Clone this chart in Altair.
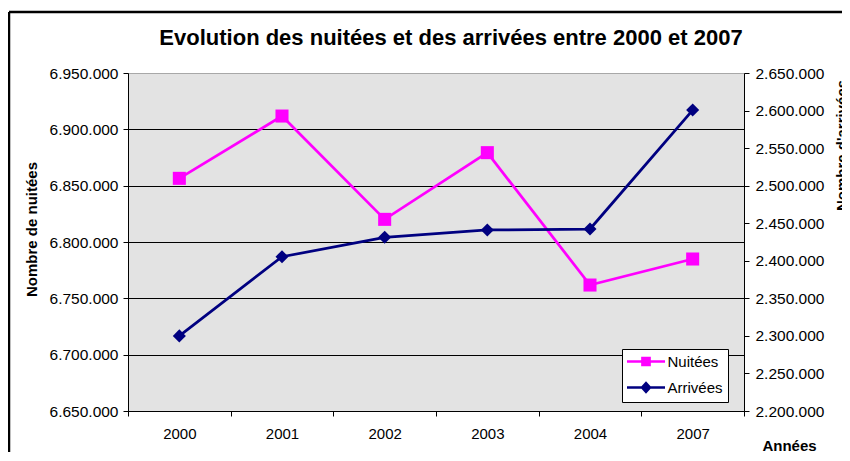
import altair as alt
import pandas as pd

FONT = "Liberation Sans"

years = ["2000", "2001", "2002", "2003", "2004", "2007"]
nuitees = [6856500, 6911800, 6820100, 6879300, 6761800, 6784900]
arrivees = [2300000, 2405400, 2431200, 2441000, 2442300, 2600700]
series = ["Nuitées", "Arrivées"]
colors = ["#ff00ff", "#000080"]
left_ticks = [6650000, 6700000, 6750000, 6800000, 6850000, 6900000, 6950000]
right_ticks = [2200000, 2250000, 2300000, 2350000, 2400000, 2450000,
               2500000, 2550000, 2600000, 2650000]
legend_shapes = [
    "M-3.17,0H3.17M-0.6,-0.6H0.6V0.6H-0.6Z",
    "M-3.17,0H3.17M0,-0.72L0.66,0L0,0.72L-0.66,0Z",
]

df_n = pd.DataFrame({"annee": years, "valeur": nuitees, "serie": series[0]})
df_a = pd.DataFrame({"annee": years, "valeur": arrivees, "serie": series[1]})
df_leg = pd.DataFrame({"serie": series})
df_border = pd.DataFrame({"k": [0]})

label_expr = "replace(format(datum.value, ',d'), regexp(',', 'g'), '.')"

x = alt.X(
    "annee:N",
    sort=years,
    scale=alt.Scale(type="band", paddingInner=0, paddingOuter=0),
    axis=alt.Axis(
        title="Années", labelAngle=0, tickBand="extent", grid=False,
        tickSize=5, labelPadding=10, labelFontSize=15,
        titleFontSize=15, titleFontWeight="bold",
        titleX=661, titleY=39, titleAlign="center", titleBaseline="alphabetic",
    ),
)

y_left = alt.Y(
    "valeur:Q",
    scale=alt.Scale(domain=[6650000, 6950000], nice=False, zero=False),
    axis=alt.Axis(
        title="Nombre de nuitées", values=left_ticks, labelExpr=label_expr,
        grid=True,
        gridColor={"condition": {"test": "datum.value >= 6950000", "value": "#a8a8a8"},
                   "value": "#000000"},
        gridWidth=1, tickSize=5, labelPadding=5, labelFontSize=15.5,
        titleFontSize=15, titleFontWeight="bold", titleAngle=270,
        titleX=-97, titleY=156, titleAlign="center", titleBaseline="middle",
    ),
)

y_right = alt.Y(
    "valeur:Q",
    scale=alt.Scale(domain=[2200000, 2650000], nice=False, zero=False),
    axis=alt.Axis(
        orient="right", title="Nombre d'arrivées", values=right_ticks,
        labelExpr=label_expr, grid=False, tickSize=5, labelPadding=6,
        labelFontSize=15.5, titleFontSize=15, titleFontWeight="bold",
        titleAngle=270, titleX=90, titleY=72, titleAlign="center",
        titleBaseline="top",
    ),
)

left = alt.layer(
    alt.Chart(df_n).mark_line(color=colors[0], strokeWidth=2.75).encode(x=x, y=y_left),
    alt.Chart(df_n).mark_point(shape="square", filled=True, size=170,
                               color=colors[0], opacity=1).encode(x=x, y=y_left),
)

right = alt.layer(
    alt.Chart(df_a).mark_line(color=colors[1], strokeWidth=2.75).encode(x=x, y=y_right),
    alt.Chart(df_a).mark_point(shape="diamond", filled=True, size=170,
                               color=colors[1], opacity=1).encode(x=x, y=y_right),
)

legend = alt.Legend(
    title=None, orient="none", legendX=494, legendY=276, direction="vertical",
    fillColor="white", strokeColor="black", padding=5,
    labelFontSize=15, labelFont=FONT, labelColor="black",
    symbolSize=144, symbolStrokeWidth=2.5, symbolOffset=11.5, labelOffset=14,
    rowPadding=7,
)

legend_layer = alt.Chart(df_leg).mark_point(filled=True, strokeWidth=2.5, opacity=1).encode(
    fill=alt.Fill("serie:N", scale=alt.Scale(domain=series, range=colors), legend=legend),
    stroke=alt.Stroke("serie:N", scale=alt.Scale(domain=series, range=colors), legend=legend),
    shape=alt.Shape("serie:N", scale=alt.Scale(domain=series, range=legend_shapes), legend=legend),
).transform_filter("false")

top_border = alt.Chart(df_border).mark_rule(color="black", strokeWidth=2.5).encode(
    x=alt.value(-119), x2=alt.value(730), y=alt.value(-61)
)
left_border = alt.Chart(df_border).mark_rule(color="black", strokeWidth=2.5).encode(
    x=alt.value(-119), y=alt.value(-61), y2=alt.value(390)
)

chart = alt.layer(left, right, legend_layer, top_border, left_border).resolve_scale(
    y="independent"
).properties(
    width=616,
    height=338,
    autosize=alt.AutoSizeParams(type="none"),
    padding={"left": 120, "top": 65, "right": 98, "bottom": 41},
    view=alt.ViewBackground(fill="#e3e3e3", stroke="#a8a8a8", strokeWidth=1),
    title=alt.TitleParams(
        "Evolution des nuitées et des arrivées entre 2000 et 2007",
        fontSize=22, fontWeight="bold", font=FONT, color="black",
        anchor="middle", frame="group", dx=15, dy=61, offset=0, baseline="bottom",
    ),
).configure(
    font=FONT
).configure_view(
    fill="#e3e3e3", stroke="#a8a8a8", strokeWidth=1
).configure_axis(
    domainColor="black", tickColor="black", labelColor="black", titleColor="black",
    labelFont=FONT, titleFont=FONT, domainWidth=1, tickWidth=1,
).configure_legend(
    strokeWidth=1, cornerRadius=0
)

chart.save("out.html", embed_options={"renderer": "svg", "actions": False})
